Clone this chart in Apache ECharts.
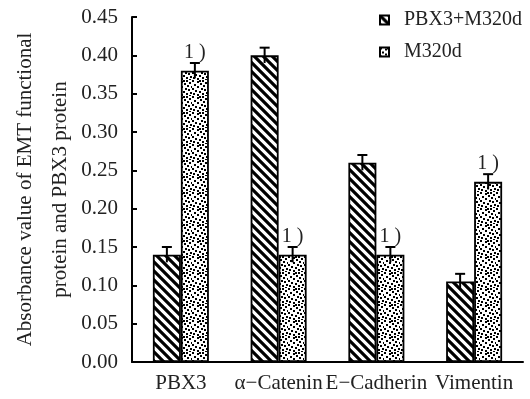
<!DOCTYPE html>
<html>
<head>
<meta charset="utf-8">
<script src="https://cdn.jsdelivr.net/npm/echarts@6/dist/echarts.min.js"></script>
<style>
  html, body { margin: 0; padding: 0; background: #fff; }
  #chart { width: 530px; height: 399px; }
</style>
</head>
<body>
<div id="chart"></div>
<script>
// data
var categories = ['PBX3', 'α−Catenin', 'E−Cadherin', 'Vimentin'];
var seriesNames = ['PBX3+M320d', 'M320d'];
var pbxM320d = [0.14, 0.40, 0.26, 0.105];
var pbxM320dErr = [0.01, 0.01, 0.01, 0.01];
var m320d = [0.38, 0.14, 0.14, 0.235];
var m320dErr = [0.01, 0.01, 0.01, 0.01];
var m320dMark = ['1 )', '1 )', '1 )', '1 )'];
var yTicks = [0, 0.05, 0.10, 0.15, 0.20, 0.25, 0.30, 0.35, 0.40, 0.45];

var FONT = '"Liberation Serif", "Noto Sans CJK SC", serif';
var FS = 20;
var BAR_W = 28;

// 斜线填充
function hatchPattern() {
  var c = document.createElement('canvas');
  c.width = 9; c.height = 9;
  var ctx = c.getContext('2d');
  ctx.fillStyle = '#fff';
  ctx.fillRect(0, 0, 9, 9);
  ctx.strokeStyle = '#000';
  ctx.lineWidth = 3.2;
  ctx.beginPath();
  ctx.moveTo(-2, -2); ctx.lineTo(11, 11);
  ctx.moveTo(-11, -2); ctx.lineTo(2, 11);
  ctx.moveTo(7, -2); ctx.lineTo(20, 11);
  ctx.stroke();
  return c;
}

// 点状填充 (固定的不规则点阵)
function dotPattern() {
  var c = document.createElement('canvas');
  c.width = 16; c.height = 16;
  var ctx = c.getContext('2d');
  ctx.fillStyle = '#fff';
  ctx.fillRect(0, 0, 16, 16);
  ctx.fillStyle = '#000';
  var pts = [[0,0],[5,1],[10,0],[13,2],[2,4],[8,3],[11,5],[15,6],[0,8],[5,6],
             [9,8],[3,10],[7,11],[12,9],[14,12],[1,13],[5,14],[10,13],[13,15],[7,16]];
  for (var i = 0; i < pts.length; i++) {
    ctx.fillRect(pts[i][0] % 16, pts[i][1] % 16, 2, 2);
  }
  return c;
}

var hatch = { image: hatchPattern(), repeat: 'repeat' };
var dots = { image: dotPattern(), repeat: 'repeat' };

function errRender(vals, errs, side) {
  return function (params, api) {
    var i = api.value(0);
    var v = vals[i], e = errs[i];
    var top = api.coord([i, v + e]);
    var bot = api.coord([i, v - e]);
    var x = top[0] + side * BAR_W / 2;
    var cap = 5;
    return {
      type: 'group',
      children: [
        { type: 'line', shape: { x1: x, y1: top[1], x2: x, y2: bot[1] }, style: { stroke: '#000', lineWidth: 2 } },
        { type: 'line', shape: { x1: x - cap, y1: top[1], x2: x + cap, y2: top[1] }, style: { stroke: '#000', lineWidth: 2 } }
      ]
    };
  };
}

var myChart = echarts.init(document.getElementById('chart'));
var option = {
  animation: false,
  backgroundColor: '#fff',
  textStyle: { fontFamily: FONT },
  legend: {
    orient: 'vertical',
    left: 374,
    top: 5,
    itemWidth: 9,
    itemHeight: 9,
    itemGap: 12,
    icon: 'rect',
    textStyle: { fontFamily: FONT, fontSize: FS, color: '#222', padding: [0, 0, 0, 10] },
    data: seriesNames
  },
  grid: { left: 132, right: 7, top: 17, bottom: 37, outerBoundsMode: 'none', containLabel: false },
  xAxis: {
    type: 'category',
    data: categories,
    axisLine: { lineStyle: { color: '#000', width: 2 } },
    axisTick: { inside: true, length: 3, lineStyle: { color: '#000', width: 2 } },
    axisLabel: { interval: 0, fontFamily: FONT, fontSize: 21, color: '#222', margin: 11 }
  },
  yAxis: {
    type: 'value',
    min: 0,
    max: 0.45,
    interval: 0.05,
    name: 'Absorbance value of EMT functional\nprotein and PBX3 protein',
    nameLocation: 'middle',
    nameGap: 54,
    nameMoveOverlap: false,
    nameTextStyle: { fontFamily: FONT, fontSize: 21, color: '#222', lineHeight: 35 },
    axisLine: { show: true, lineStyle: { color: '#000', width: 2 } },
    axisTick: { show: true, inside: true, length: 5, lineStyle: { color: '#000', width: 2 } },
    splitLine: { show: false },
    axisLabel: {
      fontFamily: FONT, fontSize: 21, color: '#222', margin: 14,
      formatter: function (v) {
        for (var i = 0; i < yTicks.length; i++) {
          if (Math.abs(yTicks[i] - v) < 1e-9) return yTicks[i].toFixed(2);
        }
        return '';
      }
    }
  },
  series: [
    {
      name: seriesNames[0],
      type: 'bar',
      barWidth: BAR_W,
      barGap: '0%',
      data: pbxM320d,
      itemStyle: { color: hatch, borderColor: '#000', borderWidth: 1.8 }
    },
    {
      name: seriesNames[1],
      type: 'bar',
      barWidth: BAR_W,
      barGap: '0%',
      data: m320d,
      itemStyle: { color: dots, borderColor: '#000', borderWidth: 1.8 },
      label: {
        show: true,
        position: 'top',
        distance: 8,
        fontFamily: FONT,
        fontSize: FS,
        color: '#222',
        formatter: function (p) { return m320dMark[p.dataIndex]; }
      }
    },
    {
      type: 'custom',
      renderItem: errRender(pbxM320d, pbxM320dErr, -1),
      data: categories.map(function (c, i) { return [i]; }),
      z: 10
    },
    {
      type: 'custom',
      renderItem: errRender(m320d, m320dErr, 1),
      data: categories.map(function (c, i) { return [i]; }),
      z: 10
    }
  ]
};
myChart.setOption(option);
</script>
</body>
</html>
